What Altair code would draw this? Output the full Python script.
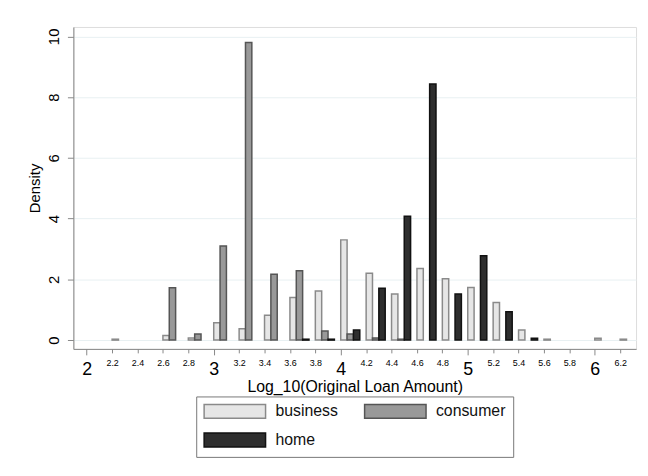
import altair as alt
import pandas as pd

bins = [2.2, 2.4, 2.6, 2.8, 3.0, 3.2, 3.4, 3.6, 3.8, 4.0, 4.2, 4.4, 4.6, 4.8,
        5.0, 5.2, 5.4, 5.6, 5.8, 6.0, 6.2]
business = [0.03, 0, 0.15, 0.07, 0.57, 0.37, 0.82, 1.40, 1.62, 3.30, 2.20, 1.52,
            2.36, 2.02, 1.73, 1.24, 0.33, 0.03, 0, 0.06, 0.03]
consumer = [0, 0, 1.72, 0.20, 3.10, 9.80, 2.17, 2.28, 0.30, 0.20, 0.07, 0.03,
            0, 0, 0, 0, 0, 0, 0, 0, 0]
home = [0, 0, 0, 0, 0, 0, 0, 0.03, 0.03, 0.33, 1.71, 4.08, 8.43, 1.52, 2.78,
        0.93, 0.06, 0, 0, 0, 0]

groups = ["business", "consumer", "home"]
fills = ["#e6e6e6", "#999999", "#2e2e2e"]
strokes = ["#8a8a8a", "#555555", "#111111"]

rows = []
for i, b in enumerate(bins):
    for k, (g, vals) in enumerate(zip(groups, [business, consumer, home])):
        if vals[i] > 0:
            rows.append({"bin": b, "type": g, "slot": k, "density": vals[i]})
df = pd.DataFrame(rows)

x_ticks = [2, 2.2, 2.4, 2.6, 2.8, 3, 3.2, 3.4, 3.6, 3.8, 4, 4.2, 4.4, 4.6, 4.8,
           5, 5.2, 5.4, 5.6, 5.8, 6, 6.2]
y_ticks = [0, 2, 4, 6, 8, 10]

FONT = "Liberation Sans"
major = "abs(datum.value - round(datum.value)) < 0.001"
SWATCH = "M-4.43,-1H4.43V1H-4.43Z"

legend_kw = dict(title=None, orient="none", legendX=124, legendY=373,
                 columns=2, direction="horizontal",
                 symbolType=SWATCH, symbolSize=196,
                 symbolStrokeWidth=1.5, symbolOffset=24,
                 labelFontSize=16, labelFont=FONT, labelOffset=33,
                 labelColor="#111111",
                 columnPadding=22, rowPadding=9, padding=7,
                 strokeColor="#777777", fillColor="white")

chart = alt.Chart(df).transform_calculate(
    x0="datum.bin + datum.slot * 0.05",
    x1="datum.bin + datum.slot * 0.05 + 0.05",
).mark_bar(strokeWidth=1.5).encode(
    x=alt.X("x0:Q", scale=alt.Scale(domain=[1.895, 6.325], nice=False, zero=False),
            axis=alt.Axis(values=x_ticks, format=".1~f", grid=False,
                          title="Log_10(Original Loan Amount)",
                          labelFontSize={"condition": {"test": major, "value": 18}, "value": 9},
                          tickSize={"condition": {"test": major, "value": 6}, "value": 4},
                          labelPadding=6, labelBaseline="top",
                          titleFontSize=16, titlePadding=0, titleFontWeight="normal")),
    x2="x1:Q",
    y=alt.Y("density:Q", scale=alt.Scale(domain=[-0.29, 10.31], nice=False, zero=False),
            axis=alt.Axis(values=y_ticks, title="Density", labelAngle=270,
                          labelAlign="center", labelBaseline="bottom",
                          labelFontSize=15, labelPadding=6, tickSize=6,
                          grid=True, gridColor="#e8f0f2", gridWidth=1,
                          titleFontSize=15, titlePadding=4, titleFontWeight="normal")),
    y2=alt.datum(0),
    fill=alt.Fill("type:N", scale=alt.Scale(domain=groups, range=fills),
                  legend=alt.Legend(**legend_kw)),
    stroke=alt.Stroke("type:N", scale=alt.Scale(domain=groups, range=strokes),
                      legend=alt.Legend(**legend_kw)),
).properties(
    width=568, height=325,
    autosize=alt.AutoSizeParams(type="none"),
    padding={"left": 66, "top": 17, "right": 4, "bottom": 110},
).configure_view(stroke=None).configure_axis(
    domainColor="#555555", tickColor="#555555", labelColor="#111111",
    titleColor="#111111", labelFont=FONT, titleFont=FONT,
).configure(background="white")

chart.save("out.html", embed_options={"renderer": "svg", "actions": False})
